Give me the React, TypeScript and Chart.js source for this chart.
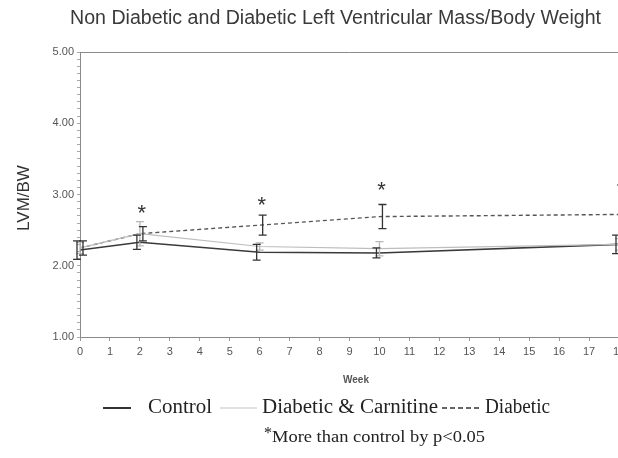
import React, { useEffect, useRef } from "react";
import { Chart, registerables } from "chart.js";

Chart.register(...registerables);

const weeks = [0, 2, 6, 10, 18];
const control = [2.22, 2.33, 2.19, 2.18, 2.3];
const controlErr = [0.13, 0.1, 0.11, 0.07, 0.13];
const carnitine = [2.25, 2.45, 2.27, 2.24, 2.3];
const carnitineErr = [0.08, 0.17, 0.05, 0.1, 0.08];
const diabetic = [2.25, 2.45, 2.57, 2.69, 2.72];
const diabeticErr = [0.1, 0.1, 0.14, 0.17, 0.22];
const starWeeks = [2, 6, 10, 18];
const starValues = [2.79, 2.89, 3.1, 3.1];

const titleText = "Non Diabetic and Diabetic Left Ventricular Mass/Body Weight";
const yTitle = "LVM/BW";
const xTitle = "Week";
const legendLabels = ["Control", "Diabetic & Carnitine", "Diabetic"];
const footnote = "More than control by p<0.05";

function drawFit(ctx: CanvasRenderingContext2D, text: string, x1: number, x2: number, y: number, font: string, color: string) {
  ctx.save();
  ctx.font = font;
  ctx.fillStyle = color;
  ctx.textBaseline = "middle";
  ctx.textAlign = "left";
  const w = ctx.measureText(text).width;
  const s = (x2 - x1) / w;
  ctx.translate(x1, y);
  ctx.scale(s, 1);
  ctx.fillText(text, 0, 0);
  ctx.restore();
}

const overlay = {
  id: "overlay",
  afterDatasetsDraw(chart: any) {
    const ctx = chart.ctx as CanvasRenderingContext2D;
    const xs = chart.scales.x;
    const ys = chart.scales.y;
    const area = chart.chartArea;
    ctx.save();
    ctx.strokeStyle = "#8a8a8a";
    ctx.lineWidth = 1;
    ctx.beginPath();
    ctx.moveTo(area.left, area.top + 0.5);
    ctx.lineTo(area.right, area.top + 0.5);
    ctx.lineTo(area.right, area.bottom);
    ctx.stroke();
    ctx.restore();
    chart.data.datasets.forEach((ds: any) => {
      const err = ds.err as number[];
      ctx.save();
      ctx.strokeStyle = ds.barColor;
      ctx.lineWidth = 1.3;
      ds.data.forEach((p: any, i: number) => {
        const x = xs.getPixelForValue(p.x) + ds.barOffset;
        const yt = ys.getPixelForValue(p.y + err[i]);
        const yb = ys.getPixelForValue(p.y - err[i]);
        ctx.beginPath();
        ctx.moveTo(x, yt);
        ctx.lineTo(x, yb);
        ctx.moveTo(x - 4, yt);
        ctx.lineTo(x + 4, yt);
        ctx.moveTo(x - 4, yb);
        ctx.lineTo(x + 4, yb);
        ctx.stroke();
      });
      ctx.restore();
    });
    ctx.save();
    ctx.fillStyle = "#333";
    ctx.font = "22px 'Liberation Sans', Arial, sans-serif";
    ctx.textAlign = "center";
    ctx.textBaseline = "middle";
    starWeeks.forEach((w, i) => {
      ctx.fillText("*", xs.getPixelForValue(w) + 2, ys.getPixelForValue(starValues[i]) + 4);
    });
    ctx.restore();
  },
  afterDraw(chart: any) {
    const ctx = chart.ctx as CanvasRenderingContext2D;
    drawFit(ctx, titleText, 70, 601, 18, "20px 'Liberation Sans Narrow', 'Liberation Sans', Arial, sans-serif", "#3a3a3a");
    ctx.save();
    ctx.translate(24, 198);
    ctx.rotate(-Math.PI / 2);
    ctx.font = "17px 'Liberation Sans', Arial, sans-serif";
    ctx.fillStyle = "#333";
    ctx.textAlign = "center";
    ctx.textBaseline = "middle";
    ctx.fillText(yTitle, 0, 0);
    ctx.restore();
    ctx.save();
    ctx.font = "bold 10px 'Liberation Sans', Arial, sans-serif";
    ctx.fillStyle = "#555";
    ctx.textAlign = "center";
    ctx.textBaseline = "middle";
    ctx.fillText(xTitle, 356, 380);
    ctx.restore();
    const ly = 408;
    const serif = "20px 'Liberation Serif', 'Times New Roman', serif";
    ctx.save();
    ctx.lineWidth = 2;
    ctx.strokeStyle = "#333";
    ctx.beginPath();
    ctx.moveTo(103, ly);
    ctx.lineTo(131, ly);
    ctx.stroke();
    ctx.strokeStyle = "#c4c4c4";
    ctx.lineWidth = 1.2;
    ctx.beginPath();
    ctx.moveTo(220, ly);
    ctx.lineTo(257, ly);
    ctx.stroke();
    ctx.strokeStyle = "#333";
    ctx.lineWidth = 1.6;
    ctx.setLineDash([5, 3]);
    ctx.beginPath();
    ctx.moveTo(442, ly);
    ctx.lineTo(481, ly);
    ctx.stroke();
    ctx.restore();
    drawFit(ctx, legendLabels[0], 148, 212, ly, serif, "#222");
    drawFit(ctx, legendLabels[1], 262, 438, ly, serif, "#222");
    drawFit(ctx, legendLabels[2], 485, 550, ly, serif, "#222");
    ctx.save();
    ctx.font = "16px 'Liberation Serif', 'Times New Roman', serif";
    ctx.fillStyle = "#222";
    ctx.textBaseline = "middle";
    ctx.fillText("*", 264, 434);
    ctx.restore();
    drawFit(ctx, footnote, 272, 485, 438, "16px 'Liberation Serif', 'Times New Roman', serif", "#222");
  },
};

export default function App() {
  const ref = useRef<HTMLCanvasElement>(null);
  useEffect(() => {
    if (!ref.current) return;
    const mk = (vals: number[]) => weeks.map((w, i) => ({ x: w, y: vals[i] }));
    const chart = new Chart(ref.current, {
      type: "line",
      data: {
        datasets: [
          { label: legendLabels[1], data: mk(carnitine), err: carnitineErr, barColor: "#b8b8b8", barOffset: 0, borderColor: "#bdbdbd", borderWidth: 1.2, pointRadius: 0, tension: 0 } as any,
          { label: legendLabels[2], data: mk(diabetic), err: diabeticErr, barColor: "#333", barOffset: 3, borderColor: "#555", borderWidth: 1.4, borderDash: [4, 3], pointRadius: 0, tension: 0 } as any,
          { label: legendLabels[0], data: mk(control), err: controlErr, barColor: "#333", barOffset: -3, borderColor: "#3a3a3a", borderWidth: 1.6, pointRadius: 0, tension: 0 } as any,
        ],
      },
      options: {
        animation: false,
        responsive: false,
        maintainAspectRatio: false,
        layout: { padding: { top: 52, right: 21, left: 0, bottom: 0 } },
        plugins: { legend: { display: false }, tooltip: { enabled: false }, title: { display: false } },
        scales: {
          x: {
            type: "linear",
            min: 0,
            max: 18,
            afterFit: (s: any) => { s.height = 121; },
            ticks: { stepSize: 1, autoSkip: false, color: "#555", font: { size: 11, family: "'Liberation Sans', Arial, sans-serif" }, padding: 4, maxRotation: 0 },
            grid: { drawOnChartArea: false, tickLength: 4, color: "#999" },
            border: { color: "#8a8a8a" },
          },
          y: {
            min: 1,
            max: 5,
            afterFit: (s: any) => { s.width = 80; },
            ticks: {
              stepSize: 0.1,
              autoSkip: false,
              color: "#555",
              font: { size: 11, family: "'Liberation Sans', Arial, sans-serif" },
              padding: 3,
              callback: (v: any) => (Math.abs(v - Math.round(v)) < 1e-6 ? Number(v).toFixed(2) : ""),
            },
            grid: { drawOnChartArea: false, tickLength: 3, color: "#aaa" },
            border: { color: "#8a8a8a" },
          },
        },
      } as any,
      plugins: [overlay],
    });
    return () => chart.destroy();
  }, []);
  return (
    <div style={{ position: "fixed", left: 0, top: 0, width: 618, height: 458, overflow: "hidden", background: "#fff" }}>
      <canvas ref={ref} width={640} height={458} style={{ display: "block" }} />
    </div>
  );
}
